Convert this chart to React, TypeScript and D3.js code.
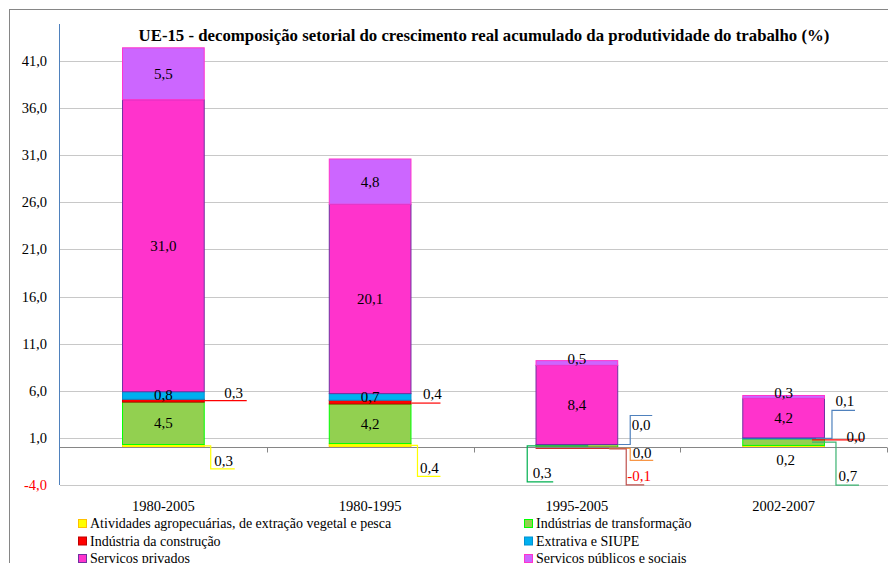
import { useEffect, useRef } from "react";
import * as d3 from "d3";

const categories = ["1980-2005", "1980-1995", "1995-2005", "2002-2007"];
const agro = [0.3, 0.4, 0.0, 0.2];
const transformacao = [4.5, 4.2, 0.3, 0.7];
const construcao = [0.3, 0.4, -0.1, 0.0];
const extrativa = [0.8, 0.7, 0.0, 0.1];
const privados = [31.0, 20.1, 8.4, 4.2];
const publicos = [5.5, 4.8, 0.5, 0.3];
const yTicks = [-4, 1, 6, 11, 16, 21, 26, 31, 36, 41];

const seriesKeys = ["agro", "transf", "constr", "extr", "priv", "pub"];
const seriesNames = [
  "Atividades agropecuárias, de extração vegetal e pesca",
  "Indústrias de transformação",
  "Indústria da construção",
  "Extrativa e SIUPE",
  "Serviços privados",
  "Serviços públicos e sociais",
];
const seriesFill = ["#FFFF00", "#92D050", "#FF0000", "#00B0F0", "#FF33CC", "#CC66FF"];
const seriesStroke = ["#FFC000", "#00FF00", "#C00000", "#0091D0", "#7030A0", "#FF33CC"];

// how each value label is placed
// center = middle of segment, top = above the bar, below = under zero line, leader = callout line
const labelModes = [
  ["leader", "center", "leader", "center", "center", "center"],
  ["leader", "center", "leader", "center", "center", "center"],
  ["leader", "leader", "leader", "leader", "center", "top"],
  ["below", "leader", "leader", "leader", "center", "top"],
];

// leader line geometry (px, x relative to right edge of bar, y relative to segment)
const leaders = [
  { cat: 0, s: 0, start: null, y0: 0, elbow: 6, dy: 23, end: 30, tx: 19, ty: -3, line: "#FFFF00", text: "#000" },
  { cat: 0, s: 2, start: -15, y0: 0, elbow: 42, dy: 0, end: 42, tx: 29, ty: -3, line: "#FF0000", text: "#000" },
  { cat: 1, s: 0, start: null, y0: 0, elbow: 6, dy: 31, end: 29, tx: 18, ty: -3, line: "#FFFF00", text: "#000" },
  { cat: 1, s: 2, start: 0, y0: 1, elbow: 29, dy: 1, end: 29, tx: 21, ty: -4, line: "#FF0000", text: "#000" },
  { cat: 2, s: 1, start: -30, y0: 0, elbow: -91, dy: 36, end: -65, tx: -76, ty: -4, line: "#00B050", text: "#000" },
  { cat: 2, s: 3, start: 0, y0: 0, elbow: 12, dy: -29, end: 34, tx: 23, ty: 15, line: "#4F81BD", text: "#000" },
  { cat: 2, s: 0, start: -9, y0: 1, elbow: 12, dy: 13, end: 35, tx: 24, ty: -2, line: "#F79646", text: "#000" },
  { cat: 2, s: 2, start: -9, y0: 1, elbow: 8, dy: 37, end: 26, tx: 21, ty: -4, line: "#C0504D", text: "#FF0000" },
  { cat: 3, s: 1, start: -13, y0: 0, elbow: 11, dy: 43, end: 34, tx: 23, ty: -4, line: "#3CB371", text: "#000" },
  { cat: 3, s: 3, start: -9, y0: 0, elbow: 7, dy: -28, end: 30, tx: 20, ty: -4, line: "#4F81BD", text: "#000" },
  { cat: 3, s: 2, start: -13, y0: 1, elbow: 38, dy: 1, end: 38, tx: 31, ty: 2, line: "#FF0000", text: "#000" },
];

const legendOrder = [0, 1, 2, 3, 4, 5];

const locale = d3.formatLocale({
  decimal: ",",
  thousands: ".",
  grouping: [3],
  currency: ["", ""],
  minus: "-",
});
const fmt = locale.format(".1f");

const FONT = "Liberation Serif, DejaVu Serif, serif";

const App = () => {
  const svgRef = useRef<SVGSVGElement | null>(null);
  const width = 888;
  const height = 563;
  const plot = { left: 60, right: 887, top: 61, bottom: 485 };

  useEffect(() => {
    if (!svgRef.current) return;
    const svg = d3.select(svgRef.current);
    svg.selectAll("*").remove();

    const table = categories.map((c, i) => ({
      cat: c,
      agro: agro[i],
      transf: transformacao[i],
      constr: construcao[i],
      extr: extrativa[i],
      priv: privados[i],
      pub: publicos[i],
    }));

    const x = d3.scaleBand().domain(categories).range([plot.left, plot.right]).paddingInner(0.6).paddingOuter(0.3);
    const y = d3.scaleLinear().domain([-4, 41]).range([plot.bottom, plot.top]);

    const stack = d3.stack<any>().keys(seriesKeys).offset(d3.stackOffsetDiverging);
    const stacked = stack(table);

    const root = svg.append("g").attr("font-family", FONT);

    // outer frame
    root
      .append("rect")
      .attr("x", 9.5)
      .attr("y", 9.5)
      .attr("width", 900)
      .attr("height", 600)
      .attr("fill", "white")
      .attr("stroke", "#868686");

    // gridlines
    root
      .append("g")
      .selectAll("line")
      .data(yTicks)
      .join("line")
      .attr("x1", plot.left)
      .attr("x2", width)
      .attr("y1", (d) => Math.round(y(d)) + 0.5)
      .attr("y2", (d) => Math.round(y(d)) + 0.5)
      .attr("stroke", "#C8C8C8");

    // y tick labels
    root
      .append("g")
      .selectAll("text")
      .data(yTicks)
      .join("text")
      .attr("x", 47)
      .attr("y", (d) => y(d) + 5)
      .attr("text-anchor", "end")
      .attr("font-size", 14.5)
      .attr("fill", (d) => (d < 0 ? "#FF0000" : "#000"))
      .text((d) => fmt(d));

    // left axis
    root
      .append("line")
      .attr("x1", plot.left - 0.5)
      .attr("x2", plot.left - 0.5)
      .attr("y1", 24)
      .attr("y2", plot.bottom)
      .attr("stroke", "#4F81BD");

    // bars
    const barG = root.append("g");
    stacked.forEach((layer, si) => {
      barG
        .append("g")
        .selectAll("rect")
        .data(layer)
        .join("rect")
        .attr("x", (d: any) => x(d.data.cat)! + 0.5)
        .attr("y", (d) => y(d[1]))
        .attr("width", x.bandwidth() - 1)
        .attr("height", (d) => Math.max(0, y(d[0]) - y(d[1])))
        .attr("fill", seriesFill[si])
        .attr("stroke", (d) => (d[1] - d[0] !== 0 ? seriesStroke[si] : "none"))
        .attr("stroke-width", 1);
    });

    // zero axis with category separators
    const zeroY = Math.round(y(0)) + 0.5;
    root
      .append("line")
      .attr("x1", plot.left)
      .attr("x2", plot.right)
      .attr("y1", zeroY)
      .attr("y2", zeroY)
      .attr("stroke", "#868686");
    const step = x.step();
    const seps = categories.map((c) => x(c)! - x.bandwidth() * 0.75 + step);
    root
      .append("g")
      .selectAll("line")
      .data(seps)
      .join("line")
      .attr("x1", (d) => Math.round(d) + 0.5)
      .attr("x2", (d) => Math.round(d) + 0.5)
      .attr("y1", zeroY)
      .attr("y2", zeroY + 5)
      .attr("stroke", "#868686");

    // category labels
    root
      .append("g")
      .selectAll("text")
      .data(categories)
      .join("text")
      .attr("x", (d) => x(d)! + x.bandwidth() / 2)
      .attr("y", 511)
      .attr("text-anchor", "middle")
      .attr("font-size", 14.5)
      .text((d) => d);

    // position of a segment (zero-size segments sit on the running positive total)
    const segMid = (ci: number, si: number) => {
      const d = stacked[si][ci];
      if (d[1] !== d[0]) return (d[0] + d[1]) / 2;
      let run = 0;
      for (let k = 0; k < si; k++) {
        const v = (table[ci] as any)[seriesKeys[k]];
        if (v > 0) run += v;
      }
      return run;
    };

    const labelG = root.append("g").attr("font-size", 15);
    labelModes.forEach((modes, ci) => {
      const cat = categories[ci];
      const cx = x(cat)! + x.bandwidth() / 2;
      modes.forEach((mode, si) => {
        const v = (table[ci] as any)[seriesKeys[si]];
        if (mode === "center") {
          labelG
            .append("text")
            .attr("x", cx)
            .attr("y", y(segMid(ci, si)) + 5)
            .attr("text-anchor", "middle")
            .text(fmt(v));
        } else if (mode === "top") {
          labelG
            .append("text")
            .attr("x", cx)
            .attr("y", y(stacked[si][ci][1]) + 3)
            .attr("text-anchor", "middle")
            .text(fmt(v));
        } else if (mode === "below") {
          labelG
            .append("text")
            .attr("x", cx + 2)
            .attr("y", y(0) + 18)
            .attr("text-anchor", "middle")
            .text(fmt(v));
        }
      });
    });

    // callout labels
    leaders.forEach((l) => {
      const cat = categories[l.cat];
      const x0 = x(cat)!;
      const x1 = x0 + x.bandwidth();
      const my = y(segMid(l.cat, l.s));
      const sx = l.start === null ? x0 : x1 + l.start;
      const path = d3.path();
      path.moveTo(sx, my + l.y0);
      path.lineTo(x1 + l.elbow, my + l.y0);
      path.lineTo(x1 + l.elbow, my + l.dy);
      path.lineTo(x1 + l.end, my + l.dy);
      labelG
        .append("path")
        .attr("d", path.toString())
        .attr("fill", "none")
        .attr("stroke", l.line)
        .attr("stroke-width", 1.2);
      const v = (table[l.cat] as any)[seriesKeys[l.s]];
      labelG
        .append("text")
        .attr("x", x1 + l.tx)
        .attr("y", my + l.dy + l.ty)
        .attr("text-anchor", "middle")
        .attr("fill", l.text)
        .text(fmt(v));
    });

    // title
    root
      .append("text")
      .attr("x", 484)
      .attr("y", 41)
      .attr("text-anchor", "middle")
      .attr("font-size", 16.8)
      .attr("font-weight", "bold")
      .text("UE-15 - decomposição setorial do crescimento real acumulado da produtividade do trabalho (%)");

    // legend: two columns
    const legend = root
      .append("g")
      .selectAll("g")
      .data(legendOrder)
      .join("g")
      .attr("transform", (d, i) => `translate(${i % 2 === 0 ? 78 : 524},${528 + Math.floor(i / 2) * 17.5})`);
    legend
      .append("rect")
      .attr("x", 0.5)
      .attr("y", -8.5)
      .attr("width", 8)
      .attr("height", 8)
      .attr("fill", (d) => seriesFill[d])
      .attr("stroke", (d) => seriesStroke[d]);
    legend
      .append("text")
      .attr("x", 12)
      .attr("y", 0)
      .attr("font-size", 14)
      .text((d) => seriesNames[d]);
  }, []);

  return (
    <svg
      ref={svgRef}
      width={width}
      height={height}
      style={{ position: "absolute", left: 0, top: 0, background: "white" }}
    ></svg>
  );
};

export default App;
